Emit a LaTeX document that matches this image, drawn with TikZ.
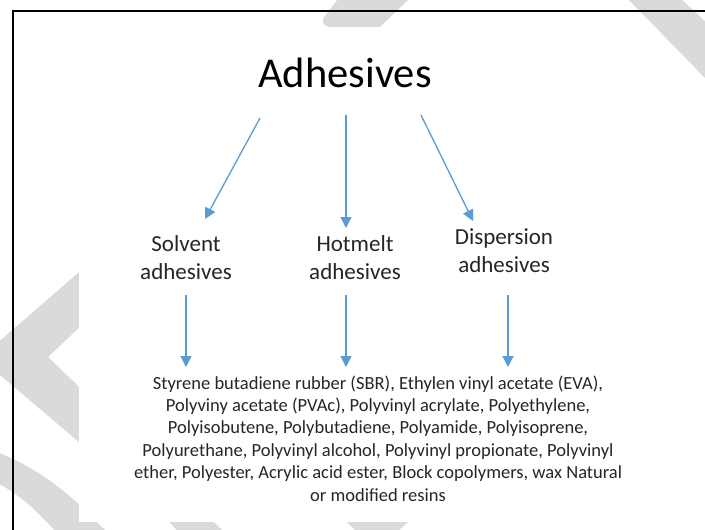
\documentclass[tikz,border=0pt]{standalone}
\usepackage{fontspec}
\setmainfont{Carlito}
\usetikzlibrary{arrows.meta}

\definecolor{arrowblue}{HTML}{5B9BD5}
\definecolor{wmgray}{RGB}{218,218,218}
\definecolor{inktext}{HTML}{262626}

\tikzset{
  wm/.style={fill=wmgray, draw=none},
  flow/.style={draw=arrowblue, line width=1.3pt,
    -{Triangle[length=11pt,width=11pt]}, shorten >=0pt},
  title/.style={font=\fontsize{42.5}{50}\selectfont, text=black, inner sep=0pt},
  kind/.style={font=\fontsize{23}{27.5}\selectfont, text=inktext, align=center, inner sep=0pt},
  listing/.style={font=\fontsize{18.5}{22.4}\selectfont, text=inktext, align=center, inner sep=0pt},
}

\begin{document}
\begin{tikzpicture}[x=1pt,y=-1pt]
  \useasboundingbox (0,0) rectangle (705,530);
  \fill[white] (0,0) rectangle (705,530);

  % background chevron pattern
  \fill[wm] (338,-1) -- (409,-1) -- (380,27) -- (331,27)
    .. controls (324,27) and (321,22) .. (324,17) -- cycle;
  \fill[wm] (628,-1) -- (681,-1) -- (706,22) -- (706,79) -- cycle;
  \fill[wm] (-20,358) -- (100,254) -- (100,308) -- (48,357)
    -- (100,407) -- (100,460) -- cycle;
  \fill[wm] (-1,453) .. controls (30,465) and (60,485) .. (90,515)
    -- (106,531) -- (55,531) .. controls (35,508) and (15,492) .. (-1,484) -- cycle;
  \fill[wm] (160,510) -- (202,510) -- (224,532) -- (178,532) -- cycle;
  \fill[wm] (339,514) -- (417,514) -- (397,532) -- (357,532) -- cycle;

  % sheet and frame
  \fill[white] (79,27) rectangle (640,522);
  \draw[line width=2pt] (706,11) -- (13,11) -- (13,531);

  % texts (multi-line nodes are anchored at the baseline of their last line)
  \node[title, anchor=base] (top) at (345,87) {Adhesives};
  \node[kind, anchor=base] (solvent) at (186,279) {Solvent\\adhesives};
  \node[kind, anchor=base] (hotmelt) at (355,279) {Hotmelt\\adhesives};
  \node[kind, anchor=base] (dispersion) at (504,272) {Dispersion\\adhesives};
  \node[listing, anchor=base] (materials) at (378,501)
    {Styrene butadiene rubber (SBR), Ethylen vinyl acetate (EVA),\\
     Polyviny acetate (PVAc), Polyvinyl acrylate, Polyethylene,\\
     Polyisobutene, Polybutadiene, Polyamide, Polyisoprene,\\
     Polyurethane, Polyvinyl alcohol, Polyvinyl propionate, Polyvinyl\\
     ether, Polyester, Acrylic acid ester, Block copolymers, wax Natural\\
     or modified resins};

  % arrow ends
  \coordinate (s1) at (260,118);
  \coordinate (e1) at (205,219);
  \coordinate (s2) at (346,115);
  \coordinate (e2) at (346,228);
  \coordinate (s3) at (421,115);
  \coordinate (e3) at (473,221);
  \coordinate (d1) at (186,295);
  \coordinate (f1) at (186,367);
  \coordinate (d2) at (346,295);
  \coordinate (f2) at (346,367);
  \coordinate (d3) at (508,295);
  \coordinate (f3) at (508,367);

  \draw[flow] (s1) -- (e1);
  \draw[flow] (s2) -- (e2);
  \draw[flow] (s3) -- (e3);
  \draw[flow] (d1) -- (f1);
  \draw[flow] (d2) -- (f2);
  \draw[flow] (d3) -- (f3);
\end{tikzpicture}
\end{document}
